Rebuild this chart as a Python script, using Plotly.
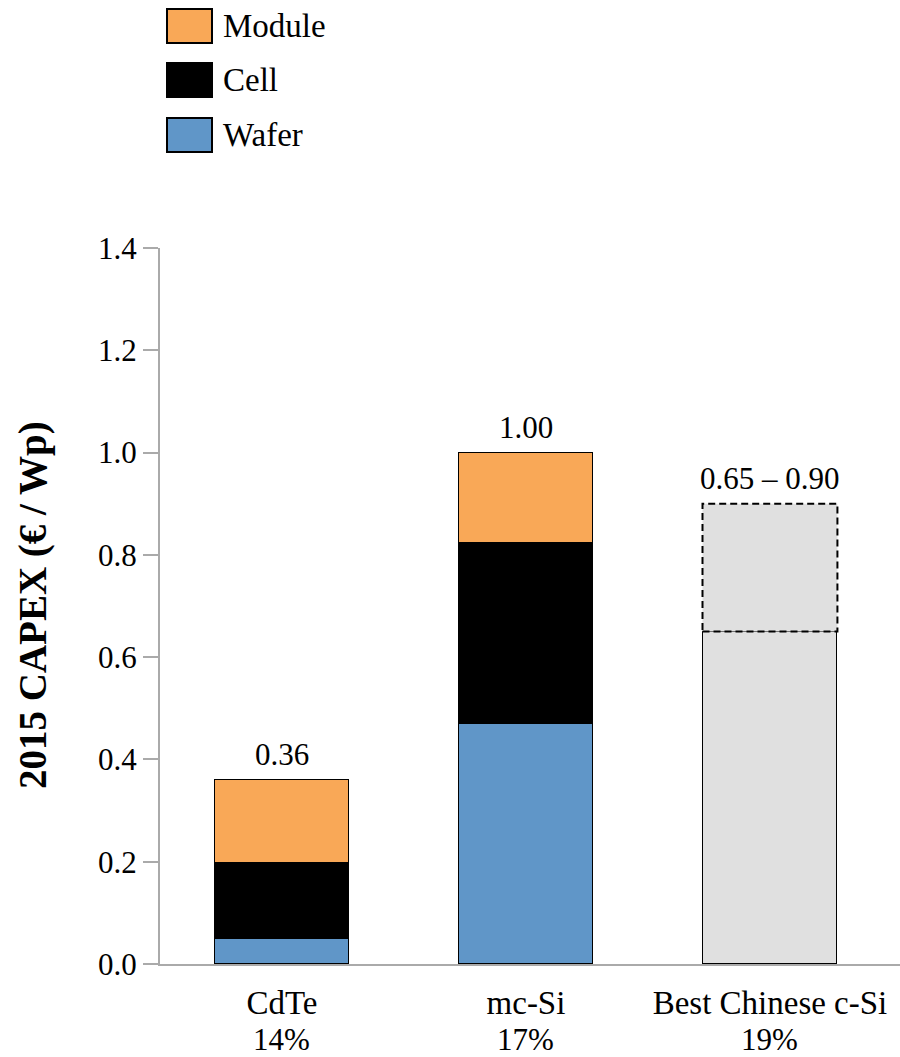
import plotly.graph_objects as go

# ---- data ----
categories = ["CdTe", "mc-Si", "Best Chinese c-Si"]
efficiencies = ["14%", "17%", "19%"]
wafer = [0.049, 0.469, None]
cell = [0.148, 0.354, None]
module = [0.163, 0.177, None]
chinese_low = [None, None, 0.65]
chinese_high = [None, None, 0.90]
total_labels = ["0.36", "1.00", "0.65 \u2013 0.90"]
total_values = [0.36, 1.00, 0.90]
series_names = ["Module", "Cell", "Wafer"]
series_colors = ["#F9A857", "#000000", "#6096C8"]
gray = "#E0E0E0"

FONT = "Liberation Serif"
W, H = 900, 1057
ML, MR, MT, MB = 160, 0, 248, 93
PW, PH = W - ML - MR, H - MT - MB
bar_w = 0.553
x_idx = list(range(len(categories)))

def px_x(x):
    return (x - ML) / PW

def px_y(y):
    return (H - MB - y) / PH

fig = go.Figure()
color_of = dict(zip(series_names, series_colors))
for name, vals in [("Wafer", wafer), ("Cell", cell), ("Module", module)]:
    fig.add_trace(go.Bar(
        x=x_idx, y=vals, name=name, width=bar_w,
        marker=dict(color=color_of[name], line=dict(color="black", width=1.5)),
        showlegend=False,
    ))
fig.add_trace(go.Bar(
    x=x_idx, y=chinese_low, name="Best Chinese", width=bar_w,
    marker=dict(color=gray, line=dict(color="black", width=1.5)),
    showlegend=False,
))

# dashed upper range for Chinese c-Si
for i, (lo, hi) in enumerate(zip(chinese_low, chinese_high)):
    if lo is not None and hi is not None:
        fig.add_shape(type="rect", xref="x", yref="y",
                      x0=i - bar_w / 2, x1=i + bar_w / 2, y0=lo, y1=hi,
                      fillcolor=gray, line=dict(color="black", width=2, dash="7px,4px"),
                      layer="above")

# total labels
for i, (lab, v) in enumerate(zip(total_labels, total_values)):
    fig.add_annotation(x=i, y=v, text=lab, showarrow=False, yanchor="bottom",
                       yshift=6, font=dict(family=FONT, size=31, color="black"))

# efficiency row under category labels
for i, e in enumerate(efficiencies):
    fig.add_annotation(x=i, xref="x", yref="paper", y=0, text=e, showarrow=False,
                       yanchor="top", yshift=-56, font=dict(family=FONT, size=31, color="black"))

# manual legend
leg_tops = [9, 63, 118]
for name, top in zip(series_names, leg_tops):
    fig.add_shape(type="rect", xref="paper", yref="paper",
                  x0=px_x(167), x1=px_x(212), y0=px_y(top + 34), y1=px_y(top),
                  fillcolor=color_of[name], line=dict(color="black", width=2))
    fig.add_annotation(xref="paper", yref="paper", x=px_x(221), y=px_y(top + 17),
                       xanchor="left", yanchor="middle", text=name, showarrow=False,
                       font=dict(family=FONT, size=33, color="black"))

# y title
fig.add_annotation(xref="paper", yref="paper", x=px_x(33), y=px_y(605), text="<b>2015 CAPEX (\u20ac / Wp)</b>",
                   textangle=-90, showarrow=False, xanchor="center", yanchor="middle",
                   font=dict(family=FONT, size=39, color="black"))

fig.update_layout(
    width=W, height=H, barmode="stack", bargap=0,
    margin=dict(l=ML, r=MR, t=MT, b=MB),
    plot_bgcolor="white", paper_bgcolor="white",
    font=dict(family=FONT, size=30, color="black"),
    showlegend=False,
)
fig.update_xaxes(
    range=[-0.5, 2.533], tickmode="array", tickvals=x_idx,
    ticktext=categories, ticklabelstandoff=8,
    showline=True, linecolor="#AAAAAA", linewidth=2, ticks="", showgrid=False,
    zeroline=False, tickfont=dict(family=FONT, size=33, color="black"),
)
fig.update_yaxes(
    range=[0, 1.4], tickvals=[0, 0.2, 0.4, 0.6, 0.8, 1.0, 1.2, 1.4], tickformat=".1f",
    showline=True, linecolor="#AAAAAA", linewidth=2, ticks="outside", ticklen=15,
    tickcolor="#AAAAAA", tickwidth=2, showgrid=False, zeroline=False,
    tickfont=dict(family=FONT, size=31, color="black"),
)

fig.write_html("out.html", config={"displayModeBar": False},
               post_script="document.body.style.margin='0';")
